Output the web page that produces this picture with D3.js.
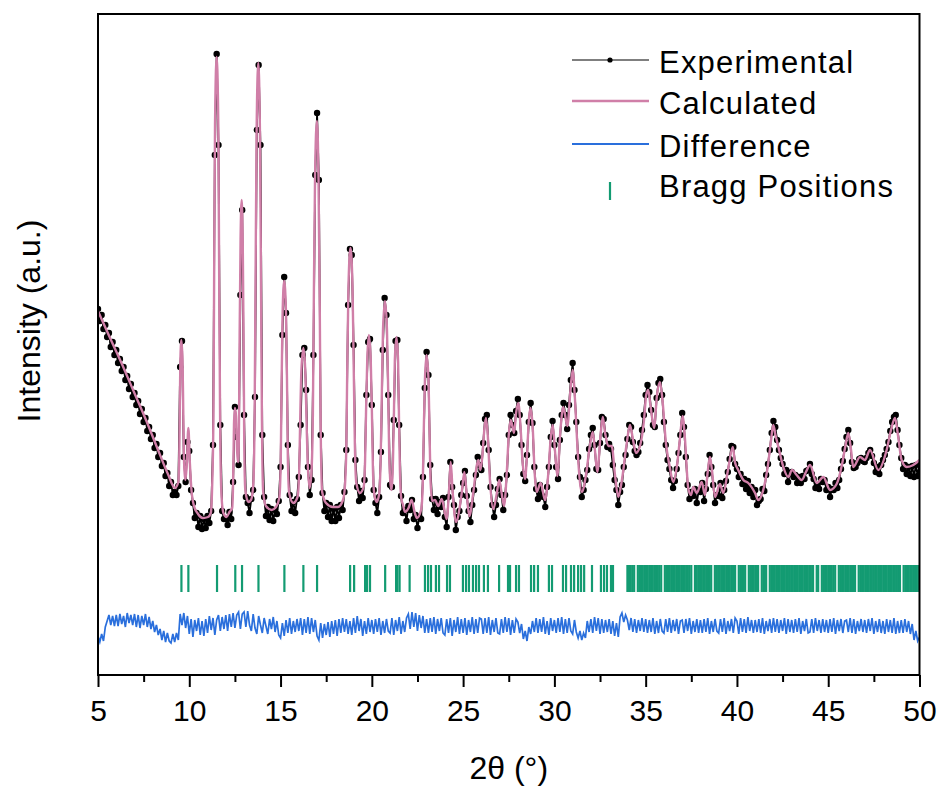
<!DOCTYPE html>
<html>
<head>
<meta charset="utf-8">
<script src="https://cdn.jsdelivr.net/npm/d3@7"></script>
<style>
  body { margin: 0; background: #fff; }
  svg { display: block; font-family: Arial, 'Liberation Sans', sans-serif; }
</style>
</head>
<body>
<div class="xrd__container"></div>
<script>
//data
const xTicks = [5, 10, 15, 20, 25, 30, 35, 40, 45, 50];

// experimental pattern, one value every 0.1 deg from 5 to 50
const expStart = 5;
const expStep = 0.1;
const expIntensity = [
  3660, 3540, 3600, 3460, 3500, 3380, 3420, 3280, 3330, 3200,
  3250, 3120, 3160, 3040, 3080, 2950, 2990, 2860, 2910, 2780,
  2820, 2700, 2740, 2610, 2660, 2530, 2570, 2440, 2480, 2360,
  2400, 2270, 2310, 2180, 2220, 2090, 2120, 1990, 2020, 1890,
  1930, 1800, 1830, 1800, 1890, 3080, 3340, 2180, 1930, 2330,
  2240, 1850, 1720, 1570, 1620, 1480, 1590, 1460, 1560, 1470,
  1590, 1520, 1640, 2300, 5200, 6210, 5300, 2500, 1640, 1560,
  1560, 1500, 1630, 1560, 1930, 2680, 2380, 2100, 3800, 4650,
  2600, 1780, 1720, 1620, 1760, 1850, 2780, 5450, 6100, 5300,
  2400, 1780, 1590, 1680, 1550, 1660, 1540, 1650, 1610, 1740,
  2080, 3400, 3980, 3620, 2300, 1800, 1640, 1730, 1620, 1760,
  1980, 2500, 3200, 3270, 2850, 2080, 1800, 1950, 3200, 5000,
  5620, 4950, 2400, 1820, 1640, 1720, 1580, 1700, 1540, 1660,
  1540, 1680, 1570, 1700, 1650, 1830, 2250, 3700, 4260, 4200,
  3300, 2150, 1880, 1740, 1840, 1770, 1950, 2800, 3330, 3360,
  2700, 1850, 1720, 1620, 1780, 2230, 3250, 3770, 3600, 2800,
  1900, 1880, 2550, 3340, 3350, 2500, 1790, 1620, 1650, 1540,
  1690, 1650, 1750, 1560, 1600, 1470, 1580, 1560, 1980, 2870,
  3230, 3000, 2100, 1760, 1650, 1760, 1610, 1730, 1680, 1770,
  1580, 1480, 1780, 2130, 1880, 1700, 1450, 1580, 1640, 1800,
  1920, 2040, 1790, 1640, 1530, 1700, 1850, 2000, 2180, 2100,
  2050, 2320, 2560, 2600, 2250, 1880, 1700, 1580, 1700, 1860,
  1960, 1800, 1650, 1800, 2000, 2400, 2600, 2500, 2420, 2640,
  2760, 2600, 2300, 2010, 1940, 2200, 2530, 2720, 2520, 2080,
  1860, 1760, 1900, 1800, 1780, 1680, 1880, 2080, 2380, 2540,
  2300, 2080, 1960, 2350, 2600, 2720, 2600, 2460, 2700, 2950,
  3120, 2850, 2530, 2180, 1980, 1780, 1850, 1950, 2050, 2260,
  2400, 2470, 2300, 2060, 2050, 2320, 2580, 2560, 2400, 2280,
  2310, 2260, 2100, 1950, 1850, 1700, 1830, 1900, 2080, 2200,
  2360, 2500, 2480, 2330, 2240, 2200, 2230, 2320, 2450, 2600,
  2800, 2900, 2830, 2650, 2500, 2480, 2770, 2920, 2960, 2800,
  2530, 2300, 2150, 2060, 1950, 1870, 1940, 2060, 2220, 2400,
  2620, 2480, 2180, 1900, 1760, 1830, 1790, 1860, 1720, 1840,
  1830, 1920, 1740, 1860, 2010, 2200, 2080, 1900, 1720, 1800,
  1790, 1920, 1770, 1850, 1940, 2030, 2160, 2290, 2280, 2110,
  2060, 1980, 2010, 1910, 1960, 1860, 1940, 1820, 1880, 1780,
  1850, 1700, 1740, 1760, 1860, 1840, 2000, 2110, 2250, 2420,
  2540, 2480, 2350, 2250, 2170, 2110, 2010, 2050, 1930, 2010,
  2030, 1980, 2000, 1920, 1980, 1920, 1990, 1960, 2040, 2050,
  2110, 2010, 1960, 1870, 1900, 1860, 1960, 1930, 1950, 1850,
  1880, 1780, 1860, 1850, 1920, 1870, 1950, 2060, 2140, 2260,
  2380, 2450, 2320, 2130, 2070, 2080, 2120, 2160, 2170, 2140,
  2130, 2170, 2220, 2250, 2190, 2120, 2030, 2080, 2010, 2100,
  2150, 2200, 2260, 2330, 2440, 2530, 2580, 2600, 2450, 2300,
  2170, 2060, 2100, 2010, 2080, 1990, 2090, 1980, 2100, 1990,
  2110
];

// calculated profile, [2theta, intensity]
const calcProfile = [
  [5.00, 3640], [5.66, 3370], [6.31, 3110], [6.97, 2830], [7.63, 2550], [8.29, 2250], [8.83, 2010], [9.22, 1870],
  [9.40, 1930], [9.45, 2170], [9.48, 2610], [9.51, 3130], [9.57, 3350], [9.63, 3140], [9.67, 2650], [9.70, 2230], [9.75, 2010], [9.79, 1950],
  [9.86, 2100], [9.95, 2470], [10.03, 2130], [10.12, 1850], [10.26, 1690], [10.48, 1610], [10.75, 1570], [11.03, 1580], [11.18, 1620],
  [11.24, 1810], [11.32, 2540], [11.36, 3910], [11.41, 5500], [11.50, 6180], [11.59, 5500], [11.64, 3910], [11.69, 2540], [11.76, 1810],
  [11.87, 1620], [12.04, 1580], [12.20, 1630],
  [12.35, 1670], [12.39, 1840], [12.42, 2150], [12.45, 2510], [12.50, 2670], [12.56, 2590], [12.59, 2400], [12.62, 2240], [12.66, 2150],
  [12.69, 2130], [12.73, 2650], [12.76, 3440], [12.81, 4360], [12.87, 4750], [12.93, 4300], [12.98, 3240], [13.01, 2330], [13.07, 1850],
  [13.23, 1730], [13.38, 1750],
  [13.51, 1920], [13.58, 2620], [13.63, 3940], [13.69, 5460], [13.78, 6120], [13.87, 5450], [13.93, 3890], [13.98, 2540], [14.05, 1830],
  [14.20, 1690], [14.51, 1650], [14.75, 1680],
  [14.93, 1770], [15.01, 2130], [15.05, 2810], [15.11, 3600], [15.20, 3940], [15.30, 3610], [15.36, 2830], [15.40, 2160], [15.48, 1810],
  [15.70, 1720],
  [15.93, 1780], [16.02, 2030], [16.07, 2500], [16.14, 3040], [16.25, 3270], [16.35, 3060], [16.42, 2570], [16.48, 2150], [16.59, 1870],
  [16.69, 2020], [16.77, 2600], [16.82, 3700], [16.89, 4990], [16.99, 5540], [17.08, 4960], [17.15, 3610], [17.20, 2450], [17.28, 1830],
  [17.49, 1720], [17.87, 1680], [18.15, 1680], [18.42, 1750],
  [18.51, 1850], [18.60, 2250], [18.65, 3010], [18.72, 3890], [18.83, 4270], [18.94, 3900], [19.01, 3050], [19.07, 2310], [19.15, 1920],
  [19.35, 1820],
  [19.55, 1880], [19.63, 2140], [19.68, 2610], [19.75, 3160], [19.84, 3400], [19.94, 3150], [20.01, 2570], [20.06, 2060], [20.14, 1800],
  [20.27, 1730],
  [20.40, 1810], [20.48, 2130], [20.54, 2730], [20.61, 3440], [20.72, 3740], [20.83, 3450], [20.90, 2790], [20.95, 2210], [21.07, 1850],
  [21.16, 2160], [21.21, 2610], [21.26, 3150], [21.35, 3380], [21.44, 3130], [21.49, 2540], [21.54, 2040], [21.61, 1770], [21.71, 1700],
  [21.82, 1630], [22.01, 1670], [22.18, 1750], [22.34, 1630], [22.47, 1570],
  [22.71, 1660], [22.79, 1920], [22.84, 2400], [22.91, 2960], [23.00, 3200], [23.10, 2970], [23.16, 2440], [23.21, 1980], [23.30, 1740],
  [23.46, 1750], [23.64, 1690], [23.83, 1760], [24.10, 1560], [24.23, 1850], [24.32, 2130], [24.42, 1850], [24.61, 1530],
  [24.91, 1800], [25.07, 2030], [25.20, 1800], [25.34, 1590], [25.54, 1800], [25.71, 2050], [25.83, 2150], [25.95, 2050],
  [26.06, 2200], [26.16, 2450], [26.25, 2570], [26.35, 2400], [26.47, 1950], [26.65, 1660], [26.83, 1800], [26.98, 1950],
  [27.10, 1830], [27.24, 1690], [27.40, 2050], [27.50, 2400], [27.61, 2550], [27.79, 2420], [27.91, 2630], [28.02, 2720],
  [28.14, 2500], [28.25, 2150], [28.39, 1960], [28.50, 2200], [28.60, 2550], [28.70, 2670], [28.82, 2450], [28.91, 2050],
  [29.03, 1830], [29.25, 1920], [29.49, 1750], [29.68, 2050], [29.79, 2350], [29.91, 2500], [30.03, 2250], [30.16, 1990],
  [30.33, 2450], [30.49, 2680], [30.71, 2490], [30.88, 2850], [31.00, 3050], [31.13, 2750], [31.27, 2250], [31.50, 1830],
  [31.73, 2000], [31.95, 2300], [32.10, 2430], [32.22, 2250], [32.35, 2030], [32.53, 2400], [32.65, 2580], [32.77, 2430],
  [32.95, 2290], [33.14, 2290], [33.32, 2000], [33.50, 1780], [33.70, 1950], [33.95, 2300], [34.14, 2500], [34.31, 2350],
  [34.47, 2220], [34.69, 2290], [34.91, 2550], [35.03, 2800], [35.14, 2850], [35.26, 2700], [35.46, 2470], [35.62, 2800],
  [35.78, 2930], [35.92, 2750], [36.11, 2320], [36.31, 2090], [36.51, 1930], [36.74, 2130], [36.88, 2370], [37.02, 2590],
  [37.15, 2370], [37.33, 1870], [37.48, 1800], [37.61, 1880], [37.80, 1820], [38.07, 1930], [38.25, 1800], [38.41, 2050],
  [38.52, 2180], [38.63, 2050], [38.80, 1780], [39.07, 1910], [39.25, 1820], [39.51, 2050], [39.77, 2280], [39.89, 2130],
  [40.07, 2050], [40.35, 1950], [40.62, 1920], [40.99, 1820], [41.17, 1750], [41.44, 1850], [41.70, 2100], [41.87, 2350],
  [41.99, 2500], [42.11, 2400], [42.27, 2280], [42.54, 2080], [42.81, 1980], [43.02, 2050], [43.27, 2000], [43.55, 1950],
  [43.78, 2030], [44.00, 2100], [44.37, 1920], [44.73, 1980], [45.10, 1850], [45.46, 1910], [45.75, 2100], [45.95, 2300],
  [46.10, 2420], [46.25, 2250], [46.37, 2080], [46.74, 2180], [47.01, 2150], [47.29, 2250], [47.74, 2050], [48.20, 2250],
  [48.44, 2450], [48.66, 2570], [48.82, 2400], [49.02, 2150], [49.30, 2080], [49.66, 2100], [50.00, 2150]
];

// observed minus calculated, same 0.1 deg grid, drawn shifted down
const diffOffset = 480;
const diffValues = [
  -90, -150, -70, -140, 0, 60, 120, 20, 110, 10,
  120, 10, 130, 30, 110, 0, 140, 40, 120, 20,
  130, 0, 120, -10, 110, 20, 130, 0, 100, -20,
  60, -50, 20, -80, -20, -130, -40, -150, -60, -140,
  -160, -70, -150, -60, -130, 130, 20, 140, -10, 110,
  -70, 80, -100, 70, -40, 90, -80, 60, -90, 80,
  -60, 110, -30, 90, -80, 70, 120, -40, 100, -20,
  120, -40, 130, 0, 140, -10, 120, 150, -20, 130,
  150, 0, 160, 20, -40, 130, -10, -70, 110, 20,
  -60, 90, 10, -70, 80, -20, 100, -50, 60, -80,
  -110, 40, -90, 70, -60, 90, -70, 60, -50, 80,
  -40, 90, -80, 80, -60, 100, -70, 90, -50, 70,
  -90, -130, 40, -110, 30, -80, 50, -100, 60, -70,
  70, -90, 80, -60, 90, -50, 80, -70, 60, -80,
  90, -60, 110, -40, 80, -90, 60, -70, 90, -50,
  70, -70, 80, -50, 90, -80, 60, -60, 80, -40,
  -60, 90, -80, 70, -40, 100, -70, 60, -50, 90,
  130, -20, 150, 0, 140, -40, 120, -10, 110, -60,
  80, -60, 90, -50, 100, -70, 80, -40, 90, -60,
  -80, 80, -60, 90, -90, 70, -50, 100, -70, 80,
  -60, 90, -80, 70, -50, 100, -70, 80, -60, 90,
  80, -70, 90, -60, 100, -80, 70, -50, 90, -60,
  -70, 80, -60, 100, -50, 90, -80, 70, -60, 80,
  50, -60, 30, -120, -40, -140, 0, -70, 60, -50,
  90, -60, 80, -50, 100, -70, 60, -80, 90, -40,
  70, -60, 90, -50, 100, -70, 80, -60, 90, -40,
  -70, 70, -50, -110, -40, -130, -60, -110, 60, -50,
  80, -60, 100, -40, 90, -70, 80, -60, 70, -50,
  80, -70, 60, -90, 40, -100, 100, 140, 50, 120,
  70, -30, 90, -50, 80, -60, 70, -40, 90, -50,
  80, -60, 70, -50, 90, -70, 60, -60, 80, -40,
  -60, 80, -50, 90, -60, 70, -40, 80, -70, 60,
  70, -60, 80, -40, 90, -70, 60, -50, 80, -60,
  70, -60, 80, -50, 90, -70, 60, -50, 80, -40,
  -60, 80, -50, 90, -70, 60, -40, 80, -60, 90,
  60, -70, 90, -50, 80, -60, 100, -40, 70, -60,
  70, -50, 80, -60, 90, -70, 60, -40, 80, -60,
  90, -50, 80, -60, 70, -40, 90, -70, 80, -50,
  70, -60, 80, -50, 90, -70, 60, -40, 80, -60,
  -50, 80, -60, 90, -40, 70, -60, 80, -50, 70,
  -60, 80, -50, 90, -70, 70, -40, 80, -60, 60,
  70, -50, 90, -60, 80, -70, 60, -40, 80, -50,
  70, -60, 80, -40, 90, -70, 60, -50, 80, -60,
  60, -70, 80, -50, 70, -60, 90, -70, 60, -60,
  70, -60, 80, -50, 60, -70, 30, -130, -40, -140,
  -100
];

// reflection positions (2theta)
const braggPositions = [
  9.57, 9.95, 11.52, 12.52, 12.89, 13.79, 15.21, 16.25, 17.00, 18.81, 19.03, 19.63, 19.74, 19.90, 20.73,
  21.33, 21.40, 21.52, 22.07, 22.91, 23.08, 23.24, 23.51, 23.68, 24.12, 24.28, 24.99, 25.16, 25.32,
  25.54, 25.71, 25.87, 26.14, 26.36, 26.97, 27.46, 27.57, 27.90, 28.06, 28.72, 28.89, 29.10, 29.70,
  29.87, 30.47, 30.64, 30.91, 31.08, 31.30, 31.46, 31.63, 32.06, 32.55, 32.72, 32.88, 33.10, 33.21,
  34.00, 34.09, 34.18, 34.27, 34.37, 34.57, 34.66, 34.75, 34.84, 34.93, 35.02, 35.11, 35.20, 35.29,
  35.38, 35.47, 35.56, 35.65, 35.74, 35.85, 36.05, 36.14, 36.23, 36.32, 36.41, 36.50, 36.59, 36.68,
  36.77, 36.86, 36.95, 37.04, 37.13, 37.22, 37.31, 37.40, 37.50, 37.70, 37.79, 37.88, 37.97, 38.06,
  38.15, 38.24, 38.33, 38.42, 38.50, 38.59, 38.79, 38.88, 38.97, 39.06, 39.15, 39.24, 39.33, 39.42,
  39.51, 39.60, 39.69, 39.78, 39.90, 40.10, 40.19, 40.28, 40.37, 40.45, 40.65, 40.74, 40.83, 40.92,
  41.01, 41.08, 41.16, 41.36, 41.45, 41.52, 41.60, 41.80, 41.89, 41.98, 42.07, 42.16, 42.25, 42.34,
  42.43, 42.52, 42.61, 42.70, 42.79, 42.88, 42.97, 43.06, 43.15, 43.24, 43.33, 43.42, 43.51, 43.60,
  43.69, 43.78, 43.87, 43.96, 44.05, 44.17, 44.37, 44.45, 44.65, 44.74, 44.83, 44.92, 45.01, 45.10,
  45.19, 45.28, 45.38, 45.58, 45.67, 45.76, 45.85, 45.94, 46.03, 46.12, 46.21, 46.30, 46.39, 46.47,
  46.67, 46.76, 46.85, 46.94, 47.03, 47.12, 47.21, 47.30, 47.39, 47.48, 47.57, 47.66, 47.75, 47.84,
  47.93, 48.02, 48.11, 48.20, 48.29, 48.38, 48.47, 48.56, 48.65, 48.74, 48.83, 48.93, 49.13, 49.22,
  49.31, 49.40, 49.49, 49.58, 49.67, 49.76, 49.85, 49.94, 50.00
];
const braggTop = 1100;
const braggBottom = 830;

const legendLabels = ['Experimental', 'Calculated', 'Difference', 'Bragg Positions'];

const colors = {
  exp: '#000000',
  calc: '#d07fa8',
  diff: '#2a6fdc',
  bragg: '#139b72'
};

//d3 chart
const drawChart = () => {
  const width = 940;
  const height = 787;
  const margin = { top: 14, right: 20, bottom: 112, left: 98 };
  const plotRight = width - margin.right - 0.5;
  const plotBottom = height - margin.bottom;

  //scales
  const xScale = d3.scaleLinear()
    .domain([5, 50])
    .range([margin.left, plotRight]);
  const yScale = d3.scaleLinear()
    .domain([0, 6610])
    .range([plotBottom, margin.top]);

  const svg = d3.select('.xrd__container')
    .append('svg')
    .attr('width', width)
    .attr('height', height);

  svg.append('defs')
    .append('clipPath')
    .attr('id', 'plot-clip')
    .append('rect')
    .attr('x', margin.left)
    .attr('y', margin.top)
    .attr('width', plotRight - margin.left)
    .attr('height', plotBottom - margin.top);

  const plot = svg.append('g').attr('clip-path', 'url(#plot-clip)');

  // experimental: line + dots
  const expData = expIntensity.map((v, i) => ({ x: expStart + i * expStep, y: v }));
  const expLine = d3.line()
    .x(d => xScale(d.x))
    .y(d => yScale(d.y));

  plot.append('path')
    .attr('d', expLine(expData))
    .style('fill', 'none')
    .style('stroke', colors.exp)
    .style('stroke-width', 1.8);

  plot.append('g')
    .selectAll('circle')
    .data(expData)
    .enter()
    .append('circle')
    .attr('cx', d => xScale(d.x))
    .attr('cy', d => yScale(d.y))
    .attr('r', 3.2)
    .style('fill', colors.exp);

  // calculated
  const calcLine = d3.line()
    .curve(d3.curveMonotoneX)
    .x(d => xScale(d[0]))
    .y(d => yScale(d[1]));

  plot.append('path')
    .attr('d', calcLine(calcProfile))
    .style('fill', 'none')
    .style('stroke', colors.calc)
    .style('stroke-width', 2.4)
    .style('stroke-linejoin', 'round');

  // bragg ticks
  plot.append('g')
    .selectAll('line')
    .data(braggPositions)
    .enter()
    .append('line')
    .attr('x1', d => xScale(d))
    .attr('x2', d => xScale(d))
    .attr('y1', yScale(braggTop))
    .attr('y2', yScale(braggBottom))
    .style('stroke', colors.bragg)
    .style('stroke-width', 2.2);

  // difference
  const diffLine = d3.line()
    .x((d, i) => xScale(expStart + i * expStep))
    .y(d => yScale(diffOffset + d));

  plot.append('path')
    .attr('d', diffLine(diffValues))
    .style('fill', 'none')
    .style('stroke', colors.diff)
    .style('stroke-width', 1.7);

  // frame
  svg.append('rect')
    .attr('x', margin.left)
    .attr('y', margin.top)
    .attr('width', plotRight - margin.left)
    .attr('height', plotBottom - margin.top)
    .style('fill', 'none')
    .style('stroke', '#000')
    .style('stroke-width', 2);

  // x axis
  const xAxis = d3.axisBottom(xScale)
    .tickValues(xTicks)
    .tickSize(12)
    .tickPadding(13)
    .tickFormat(d3.format('d'));

  const xAxisDraw = svg.append('g')
    .attr('class', 'x-axis')
    .attr('transform', `translate(0,${plotBottom})`)
    .call(xAxis);
  xAxisDraw.select('.domain').remove();
  xAxisDraw.selectAll('line').style('stroke-width', 2);
  xAxisDraw.selectAll('text')
    .style('font-size', '30px')
    .style('font-family', "Arial, 'Liberation Sans', sans-serif")
    .style('fill', '#000');

  const minorAxis = d3.axisBottom(xScale)
    .tickValues(xTicks.slice(1).map(v => v - 2.5))
    .tickSize(7)
    .tickFormat('');
  const minorDraw = svg.append('g')
    .attr('transform', `translate(0,${plotBottom})`)
    .call(minorAxis);
  minorDraw.select('.domain').remove();
  minorDraw.selectAll('line').style('stroke-width', 2);

  // axis titles
  svg.append('text')
    .attr('x', (margin.left + plotRight) / 2)
    .attr('y', 779)
    .attr('text-anchor', 'middle')
    .style('font-size', '32px')
    .text('2θ (°)');

  svg.append('text')
    .attr('transform', 'translate(40,321) rotate(-90)')
    .attr('text-anchor', 'middle')
    .style('font-size', '32px')
    .text('Intensity (a.u.)');

  // legend
  const legend = svg.append('g').attr('class', 'legend');
  const rowY = [60, 101, 144, 191];
  const baseY = [73, 114, 157, 197];

  legend.append('line')
    .attr('x1', 572).attr('x2', 649)
    .attr('y1', rowY[0]).attr('y2', rowY[0])
    .style('stroke', colors.exp).style('stroke-width', 1.2);
  legend.append('circle')
    .attr('cx', 610).attr('cy', rowY[0]).attr('r', 2.6)
    .style('fill', colors.exp);
  legend.append('line')
    .attr('x1', 572).attr('x2', 649)
    .attr('y1', rowY[1]).attr('y2', rowY[1])
    .style('stroke', colors.calc).style('stroke-width', 2.4);
  legend.append('line')
    .attr('x1', 572).attr('x2', 649)
    .attr('y1', rowY[2]).attr('y2', rowY[2])
    .style('stroke', colors.diff).style('stroke-width', 2);
  legend.append('line')
    .attr('x1', 610).attr('x2', 610)
    .attr('y1', rowY[3] - 9).attr('y2', rowY[3] + 9)
    .style('stroke', colors.bragg).style('stroke-width', 2.2);

  legend.selectAll('.legend__label')
    .data(legendLabels)
    .enter()
    .append('text')
    .attr('class', 'legend__label')
    .attr('x', 659)
    .attr('y', (d, i) => baseY[i])
    .style('font-size', '31px')
    .style('letter-spacing', '1.2px')
    .text(d => d);
};

drawChart();
</script>
</body>
</html>
